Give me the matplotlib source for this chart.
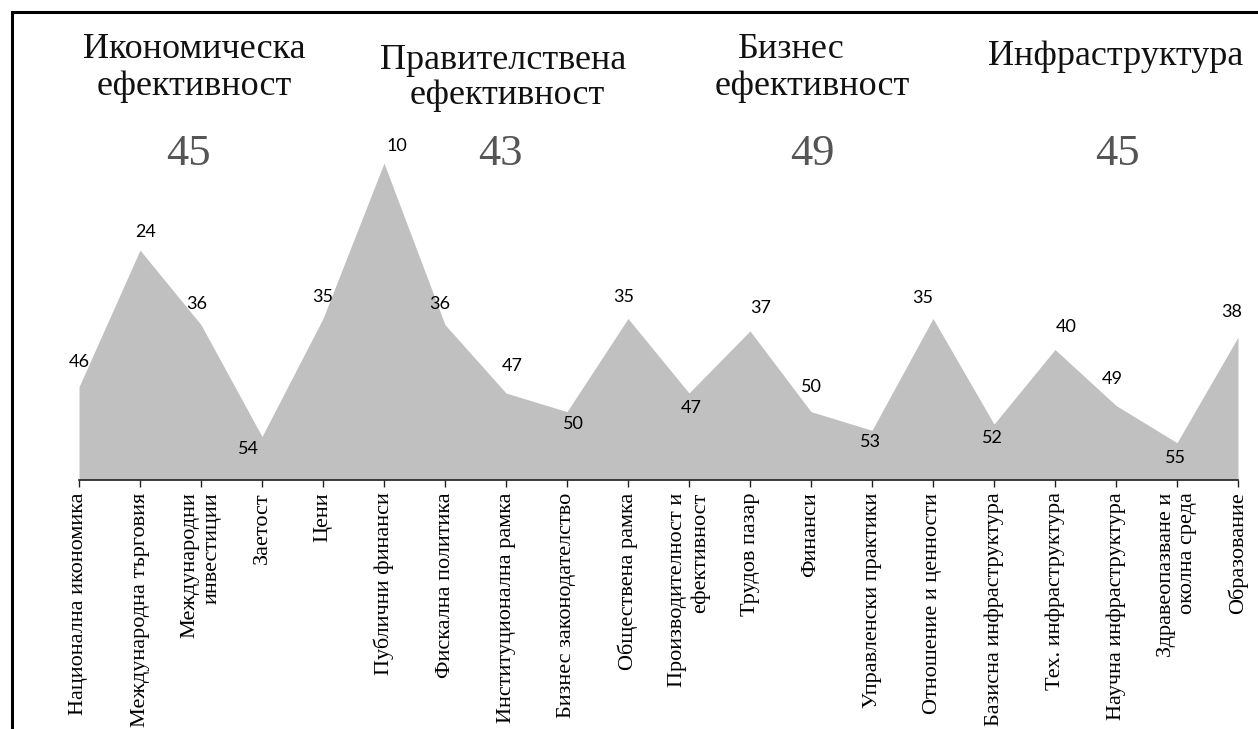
import matplotlib
matplotlib.use("Agg")
import matplotlib.pyplot as plt
from matplotlib.lines import Line2D

# ---------------- data ----------------
categories = [
    "Национална икономика", "Международна търговия", "Международни\nинвестиции",
    "Заетост", "Цени", "Публични финанси", "Фискална политика",
    "Институционална рамка", "Бизнес законодателство", "Обществена рамка",
    "Производителност и\nефективност", "Трудов пазар", "Финанси",
    "Управленски практики", "Отношение и ценности", "Базисна инфраструктура",
    "Тех. инфраструктура", "Научна инфраструктура", "Здравеопазване и\nоколна среда",
    "Образование",
]
ranks = [46, 24, 36, 54, 35, 10, 36, 47, 50, 35, 47, 37, 50, 53, 35, 52, 40, 49, 55, 38]

group_titles = ["Икономическа\nефективност", "Правителствена\nефективност",
                "Бизнес\nефективност", "Инфраструктура"]
group_scores = [45, 43, 49, 45]

# ---------------- style / layout ----------------
W, H = 1258, 729
DPI = 100
baseline_rank = 61.0
top_rank = 0.0

# label offsets in pixels (dx, dy; dy positive = down)
label_offsets = [(0, -25), (6, -18), (-4, -21), (-14, 12), (0, -21), (13, -17),
                 (-5, -21), (6, -27), (6, 12), (-4, -21), (2, 15), (11, -23),
                 (0, -25), (-2, 12), (-10, -20), (-2, 14), (11, -23), (-4, -26),
                 (-2, 15), (-6, -25)]

# header line positions: per group list of (center_x, baseline_y) per line (pixels)
title_pos = [[(194, 58), (194, 95)],
             [(503, 69), (507, 104)],
             [(791, 58), (812, 95)],
             [(1116, 65)]]
score_pos = [(188, 165), (500, 165), (812, 165), (1117, 165)]

serif = ["Liberation Serif", "DejaVu Serif"]
sans = ["Lato", "DejaVu Sans"]

fig = plt.figure(figsize=(W / DPI, H / DPI), dpi=DPI)

def fx(px):
    return px / W

def fy(py):
    return 1 - py / H

ax_left, ax_right = 79, 1238
ax_top, ax_bottom = 101, 480
ax = fig.add_axes([fx(ax_left), fy(ax_bottom), (ax_right - ax_left) / W, (ax_bottom - ax_top) / H])

x = list(range(len(ranks)))
ax.fill_between(x, ranks, [baseline_rank] * len(ranks), color="#c0c0c0", linewidth=0)
ax.set_xlim(0, len(ranks) - 1)
ax.set_ylim(baseline_rank, top_rank)

for s in ["top", "right", "left"]:
    ax.spines[s].set_visible(False)
ax.spines["bottom"].set_color("#222222")
ax.spines["bottom"].set_linewidth(1.2)
ax.set_yticks([])
ax.set_xticks(x)
ax.set_xticklabels(categories, rotation=90, fontsize=16, family=serif,
                   multialignment="right", linespacing=1.2)
ax.tick_params(axis="x", length=5, width=1, color="#222222", pad=4)
ax.patch.set_alpha(0)

for i, (v, (dx, dy)) in enumerate(zip(ranks, label_offsets)):
    ax.annotate(str(v), (i, v), xytext=(dx * 72 / DPI, -dy * 72 / DPI),
                textcoords="offset points", ha="center", va="center",
                fontsize=13, family=sans, color="black", annotation_clip=False)

for title, lines_pos, score, spos in zip(group_titles, title_pos, group_scores, score_pos):
    for line, (cx, by) in zip(title.split("\n"), lines_pos):
        fig.text(fx(cx), fy(by), line, ha="center", va="baseline",
                 fontsize=26, family=serif, color="#111111")
    fig.text(fx(spos[0]), fy(spos[1]), str(score), ha="center", va="baseline",
             fontsize=32, family=serif, color="#555555")

# frame lines (top and left)
fig.add_artist(Line2D([fx(12), 1.0], [fy(12), fy(12)], color="black", lw=2.2,
                      transform=fig.transFigure))
fig.add_artist(Line2D([fx(12), fx(12)], [fy(12), 0.0], color="black", lw=2.2,
                      transform=fig.transFigure))

fig.savefig("out.png", dpi=DPI, facecolor="white")
